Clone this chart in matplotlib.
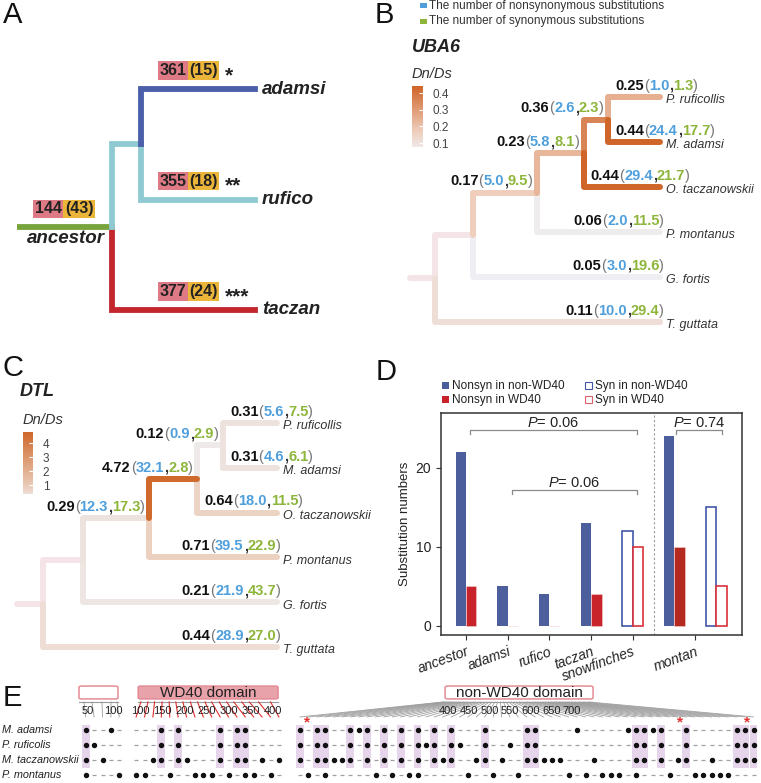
"""Multi-panel figure: branch substitutions (A), dn/ds trees for UBA6 and DTL (B, C),
WD40 / non-WD40 substitution counts (D) and the substitution site matrix (E)."""
import matplotlib

matplotlib.use("Agg")
import matplotlib.pyplot as plt
import numpy as np
from matplotlib.colors import LinearSegmentedColormap, Normalize
from matplotlib.patches import Rectangle, FancyBboxPatch
from matplotlib.transforms import blended_transform_factory

plt.rcParams["font.family"] = ["Liberation Sans", "DejaVu Sans"]
plt.rcParams["mathtext.fontset"] = "custom"
plt.rcParams["mathtext.it"] = "Liberation Sans:italic"
plt.rcParams["mathtext.rm"] = "Liberation Sans"

# ---------------- data ----------------
# panel A
A_TIPS = ["adamsi", "rufico", "taczan"]
A_NONSYN = [361, 355, 377]
A_SYN = [15, 18, 24]
A_STARS = ["*", "**", "***"]
A_ANC_NONSYN, A_ANC_SYN = 144, 43

# panels B / C share one topology
TIP_NAMES = ["P. ruficollis", "M. adamsi", "O. taczanowskii", "P. montanus", "G. fortis", "T. guttata"]
NODE_DEPTH = [0.0, 0.17, 0.455, 0.66, 0.77]  # root, n1..n4 ; tips sit at 1.0
CLADES = {
    4: [("t", 0), ("t", 1)],
    3: [("n", 4), ("t", 2)],
    2: [("n", 3), ("t", 3)],
    1: [("n", 2), ("t", 4)],
    0: [("n", 1), ("t", 5)],
}
BRANCHES = [("t", 0), ("t", 1), ("n", 4), ("t", 2), ("n", 3), ("t", 3), ("n", 2), ("t", 4), ("t", 5)]

UBA6_DNDS = [0.25, 0.44, 0.36, 0.44, 0.23, 0.06, 0.17, 0.05, 0.11]
UBA6_NSYN = [1.0, 24.4, 2.6, 29.4, 5.8, 2.0, 5.0, 3.0, 10.0]
UBA6_SYN = [1.3, 17.7, 2.3, 21.7, 8.1, 11.5, 9.5, 19.6, 29.4]

DTL_DNDS = [0.31, 0.31, 0.12, 0.64, 4.72, 0.71, 0.29, 0.21, 0.44]
DTL_NSYN = [5.6, 4.6, 0.9, 18.0, 32.1, 39.5, 12.3, 21.9, 28.9]
DTL_SYN = [7.5, 6.1, 2.9, 11.5, 2.8, 22.9, 17.3, 43.7, 27.0]

# panel D
D_CATS = ["ancestor", "adamsi", "rufico", "taczan", "snowfinches", "montan"]
NONSYN_NONWD40 = [22, 5, 4, 13, 24]   # ancestor, adamsi, rufico, taczan, montan
NONSYN_WD40 = [5, 0, 0, 4, 10]
SYN_NONWD40 = [12, 15]                # snowfinches, montan
SYN_WD40 = [10, 5]
P_VALUES = ["0.06", "0.06", "0.74"]

# panel E
E_ROWS = ["M. adamsi", "P. ruficolis", "M. taczanowskii", "P. montanus"]
E_NCOLS = [5, 18, 55]
E_G1_DOTS = [[0, 3], [0, 1], [0, 2], [0, 4]]
E_G2_DOTS = [
    [3, 5, 10, 12, 13],
    [3, 5, 10, 12, 13],
    [2, 3, 5, 6, 10, 12, 13, 15, 17],
    [0, 1, 4, 7, 8, 9, 11, 13, 14, 16],
]
E_G3_DOTS = [
    [0, 2, 3, 6, 7, 8, 10, 12, 14, 16, 18, 22, 27, 28, 33, 39, 40, 41, 42, 43, 46, 52, 53, 54],
    [0, 2, 3, 6, 8, 10, 12, 14, 15, 16, 18, 19, 22, 25, 27, 28, 40, 41, 43, 46, 52, 53, 54],
    [0, 2, 3, 4, 5, 6, 8, 10, 12, 14, 16, 17, 18, 21, 22, 24, 27, 28, 29, 30, 31, 35,
     40, 41, 43, 45, 46, 49, 52, 53, 54],
    [1, 3, 9, 11, 13, 14, 20, 23, 26, 32, 34, 36, 37, 38, 40, 44, 47, 48, 49, 50, 51],
]
E_HIGHLIGHT = [[0], [3, 5, 10, 12, 13], [0, 2, 3, 6, 8, 10, 12, 14, 16, 18, 22, 27, 28, 40, 41, 43, 46, 52, 53, 54]]
E_STARS_G3 = [0.85, 45.3, 53.2]
E_RESIDUES = [
    [42, 58, 78, 96, 108],
    [102, 118, 133, 150, 166, 181, 197, 214, 230, 247, 262, 279, 296, 312, 330, 347, 368, 395],
    [388, 392, 396, 401, 405, 410, 415, 420, 426, 431, 437, 442, 448, 455, 461, 467, 474, 480,
     487, 494, 500, 507, 514, 520, 527, 534, 540, 547, 553, 560, 566, 573, 579, 586, 592, 598,
     605, 611, 617, 624, 630, 636, 643, 649, 656, 662, 669, 676, 683, 690, 698, 707, 717, 728, 740],
]
E_RULER_TICKS = [[50, 100], [100, 150, 200, 250, 300, 350, 400], [400, 450, 500, 550, 600, 650, 700]]
E_RULER_RANGE = [(32, 110), (96, 412), (393, 751)]

# ---------------- style ----------------
PINK, YELLOW = "#dd7a86", "#ebb53a"
NS_BLUE, S_GREEN = "#4f9fdc", "#8db53a"
STEM = "#f4e3e7"
D_BLUE, D_RED = "#4d5e9c", "#c8232b"

W, H = 761, 783
fig = plt.figure(figsize=(W / 100, H / 100), dpi=100)


def px_axes(x0, y0, x1, y1):
    return fig.add_axes([x0 / W, 1 - y1 / H, (x1 - x0) / W, (y1 - y0) / H])


def data_axes(box, xmap, ymap):
    """Axes over a pixel box; data unit u sits at px = map[0] + map[1] * u."""
    x0, y0, x1, y1 = box
    ax = px_axes(x0, y0, x1, y1)
    ax.set_xlim((x0 - xmap[0]) / xmap[1], (x1 - xmap[0]) / xmap[1])
    ax.set_ylim((y1 - ymap[0]) / ymap[1], (y0 - ymap[0]) / ymap[1])
    ax.axis("off")
    return ax


def rich_label(ax, x, y, pieces, ha="left", dx=0, dy=0, size=10.5):
    seq = pieces if ha == "left" else pieces[::-1]
    prev = None
    for txt, col, wt in seq:
        if prev is None:
            prev = ax.annotate(txt, xy=(x, y), xytext=(dx, dy), textcoords="offset points",
                               ha=ha, va="bottom", color=col, fontweight=wt, fontsize=size,
                               annotation_clip=False)
        else:
            prev = ax.annotate(txt, xy=(1, 0) if ha == "left" else (0, 0), xycoords=prev,
                               ha=ha, va="bottom", color=col, fontweight=wt, fontsize=size)


# ---------------- panel A ----------------
axa = data_axes((0, 30, 380, 330), (112, 143), (89, 110.5))
lwa = 4.2
axa.plot([-0.665, 0.0], [1.25, 1.25], color="#77a43c", lw=lwa, solid_capstyle="butt")
axa.plot([0, 0, 1.0], [1.25, 2, 2], color="#c3262d", lw=lwa, solid_joinstyle="miter")
axa.plot([0, 0, 0.2], [1.25, 0.5, 0.5], color="#8fcad2", lw=lwa, solid_joinstyle="miter")
axa.plot([0.2, 0.2, 1.0], [0.5, 1, 1], color="#8fcad2", lw=lwa, solid_joinstyle="miter")
axa.plot([0.2, 0.2, 1.0], [0.5, 0, 0], color="#4b5ea9", lw=lwa, solid_joinstyle="miter")


def box_label(ax, x, y, a, b, star=None, fs=11.5):
    pad = 0.1
    t1 = ax.text(x, y, str(a), ha="left", va="center", fontsize=fs, fontweight="bold", color="#222",
                 bbox=dict(boxstyle=f"square,pad={pad}", fc=PINK, ec="none"))
    t2 = ax.annotate(f"({b})", xy=(1, 0.5), xycoords=t1, xytext=(2 * pad * fs, 0),
                     textcoords="offset points", ha="left", va="center", fontsize=fs,
                     fontweight="bold", color="#222",
                     bbox=dict(boxstyle=f"square,pad={pad}", fc=YELLOW, ec="none"))
    if star:
        ax.annotate(star, xy=(1, 0.5), xycoords=t2, xytext=(pad * fs + 4, -3.5),
                    textcoords="offset points", ha="left", va="center", fontsize=15,
                    fontweight="bold", color="#222")


for i, (name, ns, s, st) in enumerate(zip(A_TIPS, A_NONSYN, A_SYN, A_STARS)):
    box_label(axa, 0.33, i - 0.167, ns, s, st)
    axa.annotate(name, (1.0, i), xytext=(5, 0), textcoords="offset points", va="center",
                 ha="left", fontsize=13.5, fontweight="bold", style="italic", color="#222")
box_label(axa, -0.54, 1.25 - 0.167, A_ANC_NONSYN, A_ANC_SYN)
axa.text(-0.05, 1.35, "ancestor", ha="right", va="center", fontsize=13.5, fontweight="bold",
         style="italic", color="#222")


# ---------------- panels B / C ----------------
PARENT = {c: ("n", k) for k, kids in CLADES.items() for c in kids}


def node_pos(kind, k):
    if kind == "t":
        return 1.0, float(k)
    ys = [node_pos(*c)[1] for c in CLADES[k]]
    return NODE_DEPTH[k], sum(ys) / 2


def draw_tree(ax, dnds, nsyn, syn, cmap, norm, lw=4.3):
    def branch(b, color):
        px_, py_ = node_pos(*PARENT[b])
        cx, cy = node_pos(*b)
        ax.plot([px_, px_, cx], [py_, cy, cy], color=color, lw=lw,
                solid_capstyle="round", solid_joinstyle="round")

    rx, ry = node_pos("n", 0)
    ax.plot([-0.11, rx], [ry, ry], color=STEM, lw=lw, solid_capstyle="round")
    branch(("n", 1), STEM)
    order = np.argsort(dnds)
    for j in order:
        branch(BRANCHES[j], cmap(norm(dnds[j])))

    for b, d, n, s in zip(BRANCHES, dnds, nsyn, syn):
        pieces = [(f"{d:.2f}", "#111", "bold"), ("(", "#777", "normal"),
                  (f"{n:.1f}", NS_BLUE, "bold"), (",", "#333", "bold"),
                  (f"{s:.1f}", S_GREEN, "bold"), (")", "#777", "normal")]
        cx, cy = node_pos(*b)
        if b[0] == "t" and b[1] <= 2:
            px_, _ = node_pos(*PARENT[b])
            rich_label(ax, px_, cy, pieces, ha="left", dx=5, dy=3)
        elif b[0] == "t":
            rich_label(ax, cx, cy, pieces, ha="right", dx=3, dy=3)
        else:
            rich_label(ax, cx, cy, pieces, ha="right", dx=-3, dy=3)

    for i, name in enumerate(TIP_NAMES):
        ax.annotate(name, (1.0, i), xytext=(4, -2.5), textcoords="offset points", va="center",
                    ha="left", style="italic", fontsize=9, color="#333", annotation_clip=False)


def colorbar(box, cmap, norm, lo, hi, ticks):
    cax = px_axes(*box)
    grad = np.linspace(lo, hi, 256).reshape(-1, 1)
    cax.imshow(grad, cmap=cmap, norm=norm, aspect="auto", origin="lower", extent=[0, 1, lo, hi])
    cax.set_xlim(0, 1)
    cax.set_ylim(lo, hi)
    cax.set_xticks([])
    cax.yaxis.tick_right()
    cax.set_yticks(ticks)
    cax.set_yticklabels([f"{t:g}" for t in ticks])
    cax.tick_params(axis="y", direction="in", length=3, color="white", labelsize=8.5,
                    labelcolor="#444", pad=7)
    for sp in cax.spines.values():
        sp.set_visible(False)


cmap_b = LinearSegmentedColormap.from_list("uba6", [(0, "#efeef2"), (0.3, "#efcfbd"), (1, "#d0652a")])
norm_b = Normalize(0.05, 0.44)
axb = data_axes((380, 30, 761, 330), (435, 225), (97, 45))
draw_tree(axb, UBA6_DNDS, UBA6_NSYN, UBA6_SYN, cmap_b, norm_b)
colorbar((412, 86, 423, 147), cmap_b, norm_b, 0.076, 0.442, [0.1, 0.2, 0.3, 0.4])

cmap_c = LinearSegmentedColormap.from_list("dtl", [(0, "#eeeaea"), (0.12, "#ecd2c2"), (1, "#cf6a2c")])
norm_c = Normalize(0.12, 4.72)
axc = data_axes((0, 380, 380, 660), (43, 234), (423, 44.8))
draw_tree(axc, DTL_DNDS, DTL_NSYN, DTL_SYN, cmap_c, norm_c)
colorbar((23, 432, 33, 494), cmap_c, norm_c, 0.36, 4.79, [1, 2, 3, 4])

# ---------------- panel D ----------------
axd = px_axes(441, 413, 742, 635)
fill_pos = np.array([0, 1, 2, 3, 5])
open_pos = np.array([4, 6])
bw = 0.25
axd.bar(fill_pos - bw / 2, NONSYN_NONWD40, bw, color=D_BLUE)
axd.bar(fill_pos + bw / 2, NONSYN_WD40, bw, color=[D_RED] * 4 + ["#b3281f"],
        edgecolor="#f3d0d0", linewidth=0.4)
axd.bar(open_pos - bw / 2, SYN_NONWD40, bw, facecolor="white", edgecolor="#4356a8", linewidth=1.2)
axd.bar(open_pos + bw / 2, SYN_WD40, bw, facecolor="white", edgecolor="#d8323a", linewidth=1.2)
axd.axvline(4.5, color="#999", lw=0.8, ls=(0, (2, 2)))
axd.set_xlim(-0.6, 6.62)
axd.set_ylim(-1.14, 26.96)
axd.set_yticks([0, 10, 20])
axd.set_xticks([0, 1, 2, 3, 4, 5.5])
axd.set_xticklabels(D_CATS, rotation=20, ha="right", rotation_mode="anchor", style="italic",
                    fontsize=10, color="#222")
axd.tick_params(axis="both", length=3.5, width=0.8, color="#333")
axd.tick_params(axis="y", labelsize=10, labelcolor="#222")
axd.set_ylabel("Substitution numbers", fontsize=9.5, color="#222", labelpad=3)
for sp in axd.spines.values():
    sp.set_linewidth(1.1)
    sp.set_color("#333")

brackets = [(0.1, 4.1, 24.8), (1.1, 4.1, 17.2), (5.04, 6.14, 24.8)]
for (x1, x2, yb), p in zip(brackets, P_VALUES):
    axd.plot([x1, x1, x2, x2], [yb - 0.5, yb, yb, yb - 0.5], color="#8a8a8a", lw=0.9)
    axd.text((x1 + x2) / 2, yb + 0.35, f"$P$= {p}", ha="center", va="baseline", fontsize=10.5,
             color="#222")

# ---------------- panel E ----------------
axe = data_axes((0, 680, 761, 783), (85.7, 8.4), (730, 15))
g_start = [0.0, 6.0, 25.5]
ruler_u0 = [0.27, 6.46, 43.13]         # u of the first ruler tick
ruler_slope = [0.0595, 0.0527, 0.0492]  # u per residue
line_cols = ["#9a9a9a", "#e0302f", "#a0a0a0"]
dot_groups = [E_G1_DOTS, E_G2_DOTS, E_G3_DOTS]

for g in range(3):
    ncol = E_NCOLS[g]
    u = g_start[g] + np.arange(ncol)

    def res_u(r, g=g):
        return ruler_u0[g] + ruler_slope[g] * (np.asarray(r) - E_RULER_TICKS[g][0])

    for c in E_HIGHLIGHT[g]:
        axe.add_patch(Rectangle((u[c] - 0.47, -0.35), 0.94, 2.85, fc="#e6d5ea", ec="none", zorder=0))
    for r, dots in enumerate(dot_groups[g]):
        empty = [c for c in range(ncol) if c not in dots]
        axe.plot(u[empty], [r] * len(empty), ls="none", marker="_", ms=2.6, mew=0.9, color="#a0a0a0")
        axe.plot(u[dots], [r] * len(dots), ls="none", marker="o", ms=2.9, color="#111")

    lo, hi = res_u(E_RULER_RANGE[g])
    axe.plot([lo, hi], [-1.87, -1.87], color="#999", lw=0.8)
    for ru, cu in zip(res_u(E_RESIDUES[g]), u):
        axe.plot([ru, cu], [-1.87, -0.87], color=line_cols[g], lw=0.6 if g != 1 else 0.8)
    for t in E_RULER_TICKS[g]:
        axe.text(res_u(t), -1.25, str(t), ha="center", va="center", fontsize=8, color="#222")

    face = "#e8a2aa" if g == 1 else "white"
    axe.add_patch(FancyBboxPatch((lo, -2.93), hi - lo, 0.86, boxstyle="round,pad=0,rounding_size=0.3",
                                 fc=face, ec="#e58c96", lw=1.1, mutation_aspect=0.3))
    if g > 0:
        axe.text((lo + hi) / 2, -2.47, ["", "WD40 domain", "non-WD40 domain"][g], ha="center",
                 va="center", fontsize=11, color="#222")

for su in E_STARS_G3:
    axe.text(g_start[2] + su, -0.5, "*", ha="center", va="center", fontsize=11,
             fontweight="bold", color="#e0302f")

row_tr = blended_transform_factory(axe.transAxes, axe.transData)
for r, name in enumerate(E_ROWS):
    axe.text(2 / W, r, name, transform=row_tr, ha="left", va="center", style="italic",
             fontsize=7.8, color="#222")

# ---------------- overlay text ----------------
ov = px_axes(0, 0, W, H)
ov.set_xlim(0, W)
ov.set_ylim(H, 0)
ov.axis("off")
for letter, (x, y) in zip("ABCDE", [(3, 15), (375, 15), (2, 368), (376, 372), (3, 698)]):
    ov.text(x, y, letter, fontsize=21, ha="left", va="center", color="#111")

ov.add_patch(Rectangle((420, 3), 7, 5, fc=NS_BLUE, ec="none"))
ov.add_patch(Rectangle((420, 18.5), 7, 5, fc=S_GREEN, ec="none"))
ov.text(429, 6, "The number of nonsynonymous substitutions", fontsize=8.5, va="center", color="#333")
ov.text(429, 21, "The number of synonymous substitutions", fontsize=8.5, va="center", color="#333")
ov.text(412, 47, "UBA6", fontsize=13, fontweight="bold", style="italic", va="center", color="#222")
ov.text(412, 74, "Dn/Ds", fontsize=10.5, style="italic", va="center", color="#333")
ov.text(20, 392, "DTL", fontsize=13, fontweight="bold", style="italic", va="center", color="#222")
ov.text(23, 420, "Dn/Ds", fontsize=10.5, style="italic", va="center", color="#333")

legend_d = [((442, 382), D_BLUE, "none", "Nonsyn in non-WD40"),
            ((442, 396), D_RED, "none", "Nonsyn in WD40"),
            ((585, 382), "white", "#4356a8", "Syn in non-WD40"),
            ((585, 396), "white", "#e0606a", "Syn in WD40")]
for (x, y), fc, ec, lab in legend_d:
    ov.add_patch(Rectangle((x, y), 7, 7, fc=fc, ec=ec, lw=0.8))
    ov.text(x + 10, y + 3.5, lab, fontsize=8.5, va="center", color="#222")

fig.savefig("out.png", dpi=100)
